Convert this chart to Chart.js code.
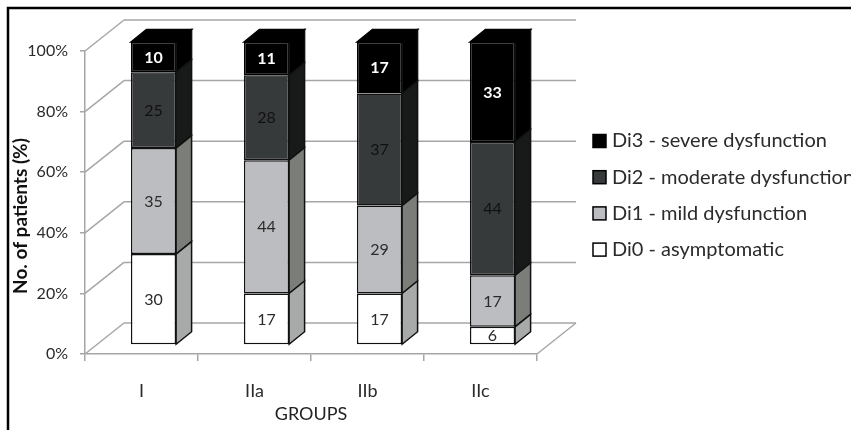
<!DOCTYPE html>
<html>
<head>
<meta charset="utf-8">
<style>
html, body { margin: 0; padding: 0; background: #fff; overflow: hidden; }
canvas { display: block; }
</style>
<script src="https://cdn.jsdelivr.net/npm/chart.js@4"></script>
</head>
<body>
<canvas id="mycanvas" width="851" height="430"></canvas>
<script>
var groups = ["I", "IIa", "IIb", "IIc"];
var di0 = [30, 17, 17, 6];
var di1 = [35, 44, 29, 17];
var di2 = [25, 28, 37, 44];
var di3 = [10, 11, 17, 33];
var seriesNames = ["Di0 - asymptomatic", "Di1 - mild dysfunction", "Di2 - moderate dysfunction", "Di3 - severe dysfunction"];
var yTicks = [0, 20, 40, 60, 80, 100];
var yTitle = "No. of patients (%)";

var fontName = "Lato";
var gridColor = "#a6a6a6";
var textColor = "#2b2b2b";
var sideColors = ["#a8a9a9", "#7b7e78", "#181a19", "#000000"];

// the bars stand part way into the floor, the back wall a full depth away
var barShift = { x: 12, y: -9 };
var barDepth = { x: 15.5, y: -12.5 };
var wallDepth = { x: 39, y: -31 };

function line(ctx, x1, y1, x2, y2) {
	ctx.beginPath();
	ctx.moveTo(x1, y1);
	ctx.lineTo(x2, y2);
	ctx.stroke();
}

function face(ctx, points, fill, edge) {
	ctx.beginPath();
	ctx.moveTo(points[0][0], points[0][1]);
	for (var i = 1; i < points.length; i++) {
		ctx.lineTo(points[i][0], points[i][1]);
	}
	ctx.closePath();
	ctx.fillStyle = fill;
	ctx.fill();
	ctx.strokeStyle = edge;
	ctx.lineWidth = 1.5;
	ctx.stroke();
}

var framePlugin = {
	id: "frame",
	beforeDraw: function(chart) {
		var ctx = chart.ctx;
		var area = chart.chartArea;
		ctx.save();
		ctx.strokeStyle = "#000000";
		ctx.lineWidth = 2.5;
		ctx.beginPath();
		ctx.moveTo(8, 430);
		ctx.lineTo(8, 8);
		ctx.lineTo(851, 8);
		ctx.stroke();

		// walls and floor
		ctx.strokeStyle = gridColor;
		ctx.lineWidth = 1.5;
		yTicks.forEach(function(t) {
			var y = chart.scales.y.getPixelForValue(t);
			line(ctx, area.left, y, area.left + wallDepth.x, y + wallDepth.y);
			line(ctx, area.left + wallDepth.x, y + wallDepth.y, area.right + wallDepth.x, y + wallDepth.y);
		});
		line(ctx, area.right, area.bottom, area.right + wallDepth.x, area.bottom + wallDepth.y);

		// sits lower than the centre of the axis, so not the scale's own title
		ctx.translate(21, 216);
		ctx.rotate(-Math.PI / 2);
		ctx.font = "bold 19px " + fontName;
		ctx.fillStyle = "#111111";
		ctx.textAlign = "center";
		ctx.textBaseline = "middle";
		ctx.fillText(yTitle, 0, 0);
		ctx.restore();
	},
	beforeDatasetsDraw: function(chart) {
		chart.ctx.save();
		chart.ctx.translate(barShift.x, barShift.y);
	},
	afterDatasetDraw: function(chart, args) {
		var ctx = chart.ctx;
		var meta = args.meta;
		var last = args.index === chart.data.datasets.length - 1;
		ctx.save();
		meta.data.forEach(function(bar) {
			var p = bar.getProps(["x", "y", "base", "width"], true);
			var r = p.x + p.width / 2;
			var l = p.x - p.width / 2;
			face(ctx, [[r, p.y], [r + barDepth.x, p.y + barDepth.y], [r + barDepth.x, p.base + barDepth.y], [r, p.base]], sideColors[args.index], "#111111");
			if (last) {
				face(ctx, [[l, p.y], [l + barDepth.x, p.y + barDepth.y], [r + barDepth.x, p.y + barDepth.y], [r, p.y]], "#000000", "#000000");
			}
		});
		ctx.restore();
	},
	afterDatasetsDraw: function(chart) {
		var ctx = chart.ctx;
		chart.data.datasets.forEach(function(ds, i) {
			chart.getDatasetMeta(i).data.forEach(function(bar, j) {
				var p = bar.getProps(["x", "y", "base"], true);
				ctx.font = (i === 3 ? "bold " : "") + "16px " + fontName;
				ctx.fillStyle = i === 3 ? "#ffffff" : (i === 2 ? "#111111" : textColor);
				ctx.textAlign = "center";
				ctx.textBaseline = "middle";
				ctx.fillText(ds.data[j], p.x, (p.y + p.base) / 2 + 0.5);
			});
		});
		ctx.restore();

		// legend, top entry is the last series
		ctx.save();
		ctx.font = "20px " + fontName;
		ctx.textBaseline = "middle";
		ctx.textAlign = "left";
		var rows = chart.data.datasets.slice().reverse();
		rows.forEach(function(ds, i) {
			var y = 141 + i * 36.2;
			ctx.fillStyle = ds.backgroundColor;
			ctx.fillRect(593, y - 6.5, 13, 13);
			ctx.strokeStyle = "#000000";
			ctx.lineWidth = 1.5;
			ctx.strokeRect(593, y - 6.5, 13, 13);
			ctx.fillStyle = textColor;
			ctx.fillText(ds.label, 612, y);
		});
		ctx.restore();
	}
};

var seriesValues = [di0, di1, di2, di3];
var faceColors = ["#ffffff", "#bcbdc0", "#373a3b", "#000000"];
var edgeColors = ["#111111", "#111111", "#111111", "#000000"];
var datasets = [];
for (var i = 0; i < seriesValues.length; i++) {
	datasets.push({
		label: seriesNames[i],
		data: seriesValues[i],
		backgroundColor: faceColors[i],
		borderColor: edgeColors[i],
		borderWidth: 1.5,
		borderSkipped: false,
		barPercentage: 0.4,
		categoryPercentage: 1
	});
}

var barGraph = new Chart(document.getElementById("mycanvas"), {
	type: "bar",
	data: { labels: groups, datasets: datasets },
	plugins: [framePlugin],
	options: {
		responsive: false,
		animation: false,
		devicePixelRatio: 1,
		layout: { padding: { left: 0, top: 51, right: 314, bottom: 0 } },
		plugins: { legend: { display: false }, tooltip: { enabled: false } },
		scales: {
			x: {
				stacked: true,
				afterFit: function(s) { s.height = 76; },
				grid: { drawOnChartArea: false, color: gridColor, lineWidth: 1.5, tickLength: 7, offset: true },
				border: { color: gridColor, width: 1.5 },
				ticks: { color: textColor, font: { family: fontName, size: 18 }, padding: 19 },
				title: { display: true, text: "GROUPS", color: "#222222", font: { family: fontName, size: 18 }, padding: { top: 0, bottom: 5 } }
			},
			y: {
				stacked: true,
				min: 0,
				max: 100,
				afterFit: function(s) { s.width = 85; },
				afterBuildTicks: function(s) { s.ticks = yTicks.map(function(v) { return { value: v }; }); },
				grid: { drawOnChartArea: false, color: gridColor, lineWidth: 1.5, tickLength: 5 },
				border: { color: gridColor, width: 1.5 },
				ticks: {
					color: textColor,
					font: { family: fontName, size: 16 },
					padding: 12,
					callback: function(v) { return v + "%"; }
				}
			}
		}
	}
});
</script>
</body>
</html>
